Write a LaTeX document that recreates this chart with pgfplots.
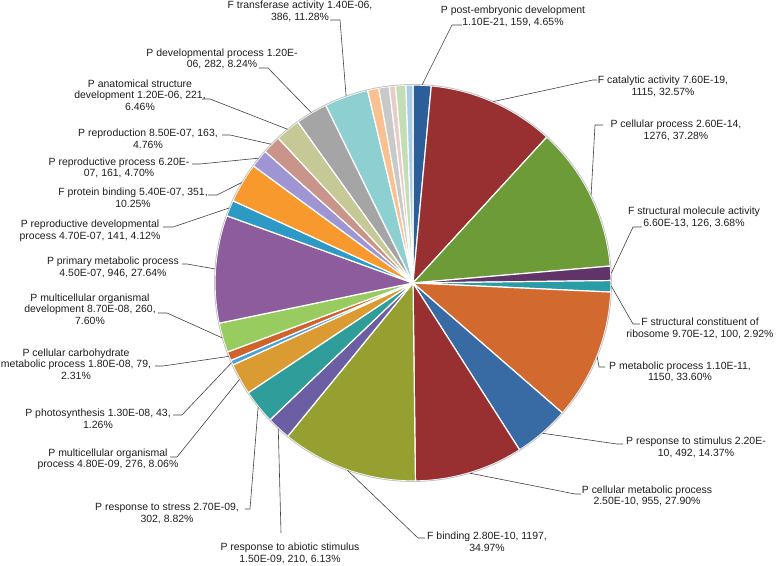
\documentclass[border=0pt]{standalone}
\usepackage{pgfplots}
\usepackage{pgfplotstable}
\pgfplotsset{compat=1.18}
\usepackage{fontspec}
\setmainfont{Liberation Sans}
\definecolor{c1}{RGB}{44,94,154}
\definecolor{c2}{RGB}{152,48,50}
\definecolor{c3}{RGB}{108,155,55}
\definecolor{c4}{RGB}{96,52,104}
\definecolor{c5}{RGB}{42,156,166}
\definecolor{c6}{RGB}{210,105,46}
\definecolor{c7}{RGB}{56,106,164}
\definecolor{c8}{RGB}{152,48,50}
\definecolor{c9}{RGB}{150,160,48}
\definecolor{c10}{RGB}{107,94,163}
\definecolor{c11}{RGB}{47,157,154}
\definecolor{c12}{RGB}{218,155,50}
\definecolor{c13}{RGB}{74,163,214}
\definecolor{c14}{RGB}{208,98,44}
\definecolor{c15}{RGB}{152,204,96}
\definecolor{c16}{RGB}{140,92,157}
\definecolor{c17}{RGB}{45,153,197}
\definecolor{c18}{RGB}{248,153,46}
\definecolor{c19}{RGB}{158,149,210}
\definecolor{c20}{RGB}{201,148,138}
\definecolor{c21}{RGB}{198,200,149}
\definecolor{c22}{RGB}{165,165,165}
\definecolor{c23}{RGB}{142,207,210}
\definecolor{c24}{RGB}{250,192,144}
\definecolor{c25}{RGB}{201,201,201}
\definecolor{c26}{RGB}{230,205,197}
\definecolor{c27}{RGB}{195,222,180}
\definecolor{c28}{RGB}{168,205,228}
\definecolor{txt}{RGB}{30,30,30}
% v = count, c = colour, (ex,ey) leader elbow, (lx,ly) leader end (image px, y from top)
\pgfplotstableread{
v c ex ey lx ly
159 c1 452 25 462 25
1115 c2 593 80 597 80
1276 c3 595 125 603 125
126 c4 633 227 642 227
100 c5 633 324 640 324
1150 c6 599 367 605 367
492 c7 617 444 623 444
955 c8 575 494 581 494
1197 c9 418 538 425 538
210 c10 281 533 281 533
302 c11 250 509 245 509
276 c12 177 457 170 457
43 c13 182 415 173 415
79 c14 163 366 155 366
260 c15 167 313 158 313
946 c16 187 264 182 264
141 c17 173 227 163 227
351 c18 217 195 208 195
161 c19 200 164 192 164
163 c20 230 135 222 135
221 c21 210 99 202 99
282 c22 268 68 259 68
386 c23 340 20 330 20
98 c24 -1 -1 -1 -1
92 c25 -1 -1 -1 -1
55 c26 -1 -1 -1 -1
90 c27 -1 -1 -1 -1
62 c28 -1 -1 -1 -1
}\piedata
\begin{document}
\begin{tikzpicture}
\useasboundingbox (0,0) rectangle (778bp,566bp);
\begin{axis}[scale only axis, width=778bp, height=566bp,
  xmin=0, xmax=778, ymin=0, ymax=566, hide axis, clip=false,
  at={(0,0)}, anchor=south west]
\pgfplotstablegetrowsof{\piedata}
\pgfmathtruncatemacro{\N}{\pgfplotsretval-1}
\def\tot{0}
\pgfplotsforeachungrouped \i in {0,...,\N}{%
  \pgfplotstablegetelem{\i}{v}\of\piedata
  \pgfmathsetmacro{\tot}{\tot+\pgfplotsretval}%
}
% slices
\def\cum{0}
\pgfplotsforeachungrouped \i in {0,...,\N}{%
  \pgfplotstablegetelem{\i}{v}\of\piedata \let\slval\pgfplotsretval
  \pgfplotstablegetelem{\i}{c}\of\piedata \let\slcol\pgfplotsretval
  \pgfmathsetmacro{\sa}{90-360*(\cum/\tot)}%
  \pgfmathsetmacro{\cum}{\cum+\slval}%
  \pgfmathsetmacro{\sb}{90-360*(\cum/\tot)}%
  \edef\temp{\noexpand\fill[\slcol, draw=white, line width=1.2bp, line join=round] (axis cs:413,283) -- ++(\sa:198bp) arc[start angle=\sa, end angle=\sb, radius=198bp] -- cycle;}%
  \temp
}
\draw[gray!45, line width=0.9bp] (axis cs:413,283) circle[radius=198.5bp];
% leader lines
\def\cum{0}
\pgfplotsforeachungrouped \i in {0,...,\N}{%
  \pgfplotstablegetelem{\i}{v}\of\piedata \let\slval\pgfplotsretval
  \pgfplotstablegetelem{\i}{ex}\of\piedata \let\lex\pgfplotsretval
  \pgfplotstablegetelem{\i}{ey}\of\piedata \let\ley\pgfplotsretval
  \pgfplotstablegetelem{\i}{lx}\of\piedata \let\llx\pgfplotsretval
  \pgfplotstablegetelem{\i}{ly}\of\piedata \let\lly\pgfplotsretval
  \pgfmathsetmacro{\sa}{90-360*(\cum/\tot)}%
  \pgfmathsetmacro{\cum}{\cum+\slval}%
  \pgfmathsetmacro{\sb}{90-360*(\cum/\tot)}%
  \pgfmathsetmacro{\sm}{(\sa+\sb)/2}%
  \ifdim \lex pt > 0pt
    \pgfmathsetmacro{\leY}{566-\ley}%
    \pgfmathsetmacro{\llY}{566-\lly}%
    \edef\temp{\noexpand\draw[black!75, line width=0.6bp] (axis cs:413,283) ++(\sm:198.5bp) -- (axis cs:\lex,\leY) -- (axis cs:\llx,\llY);}%
    \temp
  \fi
}
\tikzset{lab/.style={align=center, inner sep=0pt, text=txt, font=\fontsize{10.5}{11.6}\selectfont}}
\node[lab] at (axis cs:513,549.5) {P post-embryonic development\\1.10E-21, 159, 4.65\%};
\node[lab] at (axis cs:663,479.5) {F catalytic activity 7.60E-19,\\1115, 32.57\%};
\node[lab] at (axis cs:676,435.5) {P cellular process 2.60E-14,\\1276, 37.28\%};
\node[lab] at (axis cs:694,348.5) {F structural molecule activity\\6.60E-13, 126, 3.68\%};
\node[lab] at (axis cs:700,237.5) {F structural constituent of\\ribosome 9.70E-12, 100, 2.92\%};
\node[lab] at (axis cs:680,194) {P metabolic process 1.10E-11,\\1150, 33.60\%};
\node[lab] at (axis cs:696,118.5) {P response to stimulus 2.20E-\\10, 492, 14.37\%};
\node[lab] at (axis cs:647,70) {P cellular metabolic process\\2.50E-10, 955, 27.90\%};
\node[lab] at (axis cs:487,24) {F binding 2.80E-10, 1197,\\34.97\%};
\node[lab] at (axis cs:290,12.5) {P response to abiotic stimulus\\1.50E-09, 210, 6.13\%};
\node[lab] at (axis cs:167,52.5) {P response to stress 2.70E-09,\\302, 8.82\%};
\node[lab] at (axis cs:108,106.5) {P multicellular organismal\\process 4.80E-09, 276, 8.06\%};
\node[lab] at (axis cs:98,147.5) {P photosynthesis 1.30E-08, 43,\\1.26\%};
\node[lab] at (axis cs:76,202) {P cellular carbohydrate\\metabolic process 1.80E-08, 79,\\2.31\%};
\node[lab] at (axis cs:90,257) {P multicellular organismal\\development 8.70E-08, 260,\\7.60\%};
\node[lab] at (axis cs:113,298.5) {P primary metabolic process\\4.50E-07, 946, 27.64\%};
\node[lab] at (axis cs:90,335) {P reproductive developmental\\process 4.70E-07, 141, 4.12\%};
\node[lab] at (axis cs:133,368.5) {F protein binding 5.40E-07, 351,\\10.25\%};
\node[lab] at (axis cs:119,398) {P reproductive process 6.20E-\\07, 161, 4.70\%};
\node[lab] at (axis cs:148,427.5) {P reproduction 8.50E-07, 163,\\4.76\%};
\node[lab] at (axis cs:140,471) {P anatomical structure\\development 1.20E-06, 221,\\6.46\%};
\node[lab] at (axis cs:222,507) {P developmental process 1.20E-\\06, 282, 8.24\%};
\node[lab] at (axis cs:300,554.5) {F transferase activity 1.40E-06,\\386, 11.28\%};
\end{axis}
\end{tikzpicture}
\end{document}
